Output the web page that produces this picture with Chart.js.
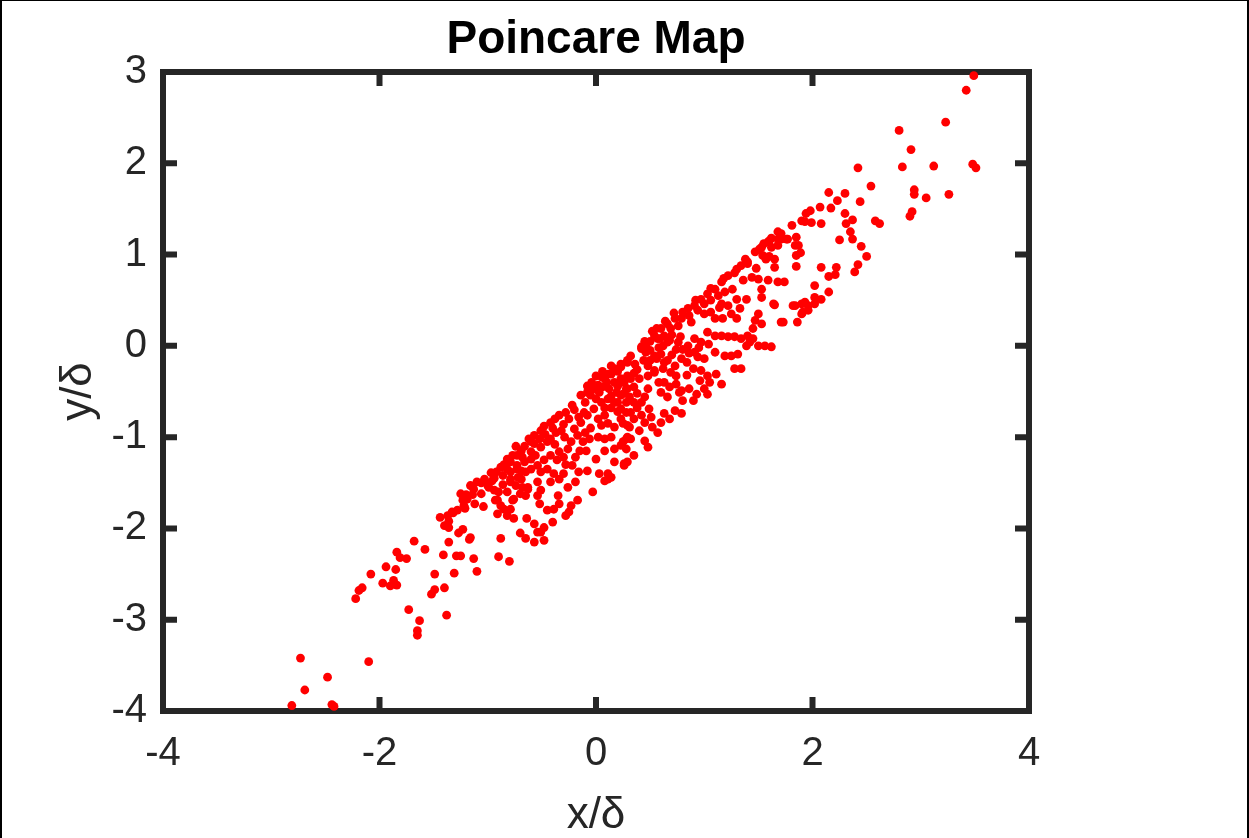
<!DOCTYPE html>
<html>
<head>
<meta charset="utf-8">
<title>Poincare Map</title>
<script src="https://cdn.jsdelivr.net/npm/chart.js@4.4.0/dist/chart.umd.min.js"></script>
<style>
  html, body { margin: 0; padding: 0; background: #fff; }
  #wrap { position: relative; width: 1249px; height: 838px; overflow: hidden; }
  #edge { position: absolute; left: 0; top: 0; right: 0; bottom: 0; pointer-events: none;
          border-left: 2px solid #000; border-top: 1px solid #000; border-right: 2px solid #000; }
</style>
</head>
<body>
<div id="wrap">
  <canvas id="map" width="1249" height="838"></canvas>
  <div id="edge"></div>
</div>
<script>
// axis ticks
const xTicks = [-4, -2, 0, 2, 4];
const yTicks = [-4, -3, -2, -1, 0, 1, 2, 3];

// section points [x/δ, y/δ], grouped along the band from lower left to upper right
const lowerTail = [
  [-2.81,-3.94],[-2.44,-3.93],[-2.42,-3.95],[-2.69,-3.77],[-2.73,-3.42],[-2.48,-3.63],[-2.10,-3.46],
  [-2.22,-2.77],[-2.19,-2.68],[-2.16,-2.65],[-2.08,-2.50],[-1.97,-2.60],[-1.90,-2.63],[-1.87,-2.57],
  [-1.84,-2.62],[-1.94,-2.42],[-1.85,-2.45],[-1.84,-2.26],[-1.81,-2.32],[-1.75,-2.33],[-1.68,-2.14],
  [-1.58,-2.23],[-1.73,-2.89],[-1.63,-3.01],[-1.65,-3.12],[-1.65,-3.17],[-1.38,-2.95],[-1.49,-2.50],
  [-1.52,-2.72],[-1.49,-2.67],[-1.40,-2.65],[-1.41,-2.29],[-1.31,-2.49],[-1.29,-2.30],[-1.25,-2.30],
  [-1.13,-2.33],[-1.10,-2.47],[-1.36,-2.15],[-1.17,-2.12],[-1.16,-2.10],[-1.23,-2.01],[-1.27,-2.05],
  [-1.44,-1.88],[-1.40,-1.97],[-1.36,-1.92],[-1.32,-1.83],[-1.21,-1.78],[-1.23,-1.69],[-1.20,-1.63],
  [-1.13,-1.57],[-1.06,-1.50],[-1.03,-1.46],[-1.06,-1.62],[-0.97,-1.39],[-0.94,-1.58],[-0.91,-1.69],
  [-0.88,-1.75],[-0.91,-1.84],[-0.85,-1.79],[-0.79,-1.79],[-0.77,-1.69],[-0.88,-2.11],[-0.90,-2.31],
  [-0.80,-2.36],[-0.76,-1.89],[-0.64,-1.89],[-0.57,-1.95],[-0.54,-2.04],[-0.70,-2.05],[-0.65,-2.11],
  [-0.57,-2.15],[-0.63,-1.57],[-0.79,-1.49],[-0.69,-1.46],[-0.65,-1.38],[-0.88,-1.33],[-0.79,-1.27],
  [-0.73,-1.20],[-0.69,-1.15],[-0.60,-1.16],[-0.57,-1.07],[-0.79,-1.38],[-0.73,-1.35],[-0.82,-1.60],
  [-0.76,-1.68],[-1.19,-1.68],[-1.22,-1.75],[-1.25,-1.62],[-1.16,-1.53],[-1.10,-1.49],[-1.37,-1.86],
  [-1.33,-1.82],[-1.36,-1.99],[-0.82,-1.86],[-0.94,-1.45],[-0.86,-1.42],[-0.86,-1.52],[-0.72,-1.44],
  [-0.99,-1.55],[-0.70,-1.62],[-1.00,-1.53],[-0.96,-1.48],[-1.14,-1.63],[-0.92,-1.38],[-0.85,-1.30],
  [-0.74,-1.10],[-0.68,-1.22],[-1.12,-1.73],[-1.28,-1.80],[-1.04,-1.76]
];

const lowerCore = [
  [-0.82,-1.24],[-0.62,-1.02],[-0.57,-0.98],[-0.51,-0.93],[-0.42,-0.84],[-0.34,-0.76],[-0.28,-0.73],
  [-0.22,-0.65],[-0.14,-0.54],[-0.08,-0.51],[0.02,-0.43],[0.08,-0.36],[0.14,-0.31],[0.23,-0.23],
  [0.29,-0.18],[-0.20,-0.91],[-0.17,-0.98],[-0.23,-1.05],[-0.29,-1.00],[-0.32,-0.93],[-0.14,-0.84],
  [-0.08,-0.76],[-0.02,-0.69],[-0.11,-0.73],[0.05,-0.62],[0.11,-0.58],[0.17,-0.62],[0.23,-0.54],
  [0.28,-0.47],[0.17,-0.40],[0.23,-0.36],[0.29,-0.33],[-0.05,-0.54],[-0.02,-0.47],[0.03,-0.51],
  [0.02,-0.80],[0.08,-0.76],[0.05,-0.87],[0.11,-0.85],[0.17,-0.89],[0.23,-0.80],[0.28,-0.73],
  [0.29,-0.87],[0.28,-1.02],[-0.06,-1.02],[0.02,-1.00],[0.08,-1.02],[0.14,-1.00],[-0.09,-1.15],
  [0.00,-1.24],[0.08,-1.15],[0.17,-1.13],[-0.08,-1.37],[0.03,-1.40],[0.11,-1.40],[0.11,-1.46],
  [0.08,-1.48],[0.14,-1.44],[0.17,-1.27],[0.26,-1.29],[-0.03,-1.60],[-0.19,-1.49],[-0.26,-1.55],
  [-0.17,-1.69],[-0.23,-1.75],[-0.25,-1.82],[-0.28,-1.86],[-0.35,-1.64],[-0.45,-1.35],[-0.39,-1.40],
  [-0.42,-1.49],[-0.34,-1.46],[-0.34,-1.16],[-0.42,-1.20],[-0.51,-1.11],[-0.45,-1.05],[-0.26,-1.13],
  [-0.19,-1.22],[-0.22,-1.31],[-0.37,-0.95],[-0.42,-1.02],[-0.60,-1.24],[-0.54,-1.31],[-0.60,-1.35],
  [-0.51,-1.38],[-0.54,-1.49],[-0.63,-1.55],[-0.51,-1.58],[-0.54,-1.64],[-0.52,-1.73],[-0.45,-1.80],
  [-0.40,-1.93],[-0.48,-1.99],[-0.51,-2.04],[-0.48,-2.13],[-0.69,-1.37],[-0.66,-1.27],[-0.73,-1.31],
  [-0.77,-1.20],[-0.82,-1.35],[-0.79,-1.46],[-0.74,-1.53],[-0.68,-1.55],[-0.65,-1.64],[-0.90,-1.60],
  [-0.93,-1.69],[-0.39,-1.79],[-0.34,-1.73],[0.25,-1.05],[0.29,-1.00],[0.28,-1.13],[0.29,-1.27],
  [0.26,-1.31],[-0.10,-0.62],[0.00,-0.58],[0.06,-0.45],[0.12,-0.47],[0.19,-0.51],[0.26,-0.40],
  [0.20,-0.28],[0.10,-0.40],[-0.04,-0.40],[0.14,-0.68],[0.20,-0.72],[0.08,-0.68],[-0.30,-0.86],
  [-0.25,-0.80],[-0.16,-0.78],[-0.47,-0.97],[-0.38,-1.08],[-0.30,-1.22],[-0.12,-1.05],[-0.05,-0.90],
  [-0.48,-1.25],[-0.56,-1.20],[-0.08,-0.44],[0.00,-0.33],[0.06,-0.28],[0.14,-0.22],[0.20,-0.44],
  [0.26,-0.52],[0.35,-0.30],[0.38,-0.52],[0.14,-0.55],[0.31,-0.56],[0.38,-0.68],[0.20,-0.62],
  [0.35,-0.80],[0.42,-0.62],[-0.60,-1.05],[-0.52,-1.02],[-0.66,-1.10],[-0.48,-0.88],[-0.40,-0.90],
  [-0.36,-1.25],[-0.28,-1.30],[-0.15,-1.15],[-0.10,-0.95],[-0.16,-1.38],[-0.30,-1.40],[-0.20,-0.70],
  [-0.38,-0.80]
];

const middleCore = [
  [0.32,-0.36],[0.23,-0.40],[0.29,-0.47],[0.35,-0.45],[0.40,-0.36],[0.48,-0.33],[0.54,-0.29],
  [0.62,-0.25],[0.69,-0.29],[0.74,-0.33],[0.63,-0.40],[0.68,-0.45],[0.79,-0.49],[0.86,-0.47],
  [0.90,-0.25],[0.97,-0.27],[1.03,-0.33],[1.11,-0.31],[1.16,-0.42],[1.05,-0.40],[1.00,-0.47],
  [1.03,-0.53],[0.93,-0.53],[0.90,-0.60],[0.80,-0.60],[0.77,-0.51],[0.60,-0.51],[0.48,-0.47],
  [0.45,-0.56],[0.35,-0.62],[0.28,-0.62],[0.23,-0.69],[0.32,-0.73],[0.42,-0.76],[0.49,-0.69],
  [0.51,-0.78],[0.63,-0.74],[0.73,-0.71],[0.79,-0.74],[0.68,-0.80],[0.60,-0.84],[0.52,-0.89],
  [0.45,-0.84],[0.40,-0.93],[0.31,-0.89],[0.25,-0.85],[0.32,-1.02],[0.45,-1.04],[0.48,-1.11],
  [0.35,-1.20],[0.57,-0.95],[0.23,-1.09],[1.28,-0.25],[1.34,-0.25],
  [0.56,0.19],[0.59,0.08],[0.42,-0.01],[0.46,-0.07],[0.29,-0.16],[0.23,-0.20],[0.17,-0.25],
  [0.11,-0.31],[0.05,-0.34],[0.48,-0.22],[0.56,-0.14],[0.54,-0.27],[0.66,-0.56],[0.74,-0.42],
  [0.84,-0.32],[0.96,-0.38],[0.58,-0.40],[0.70,-0.10],[0.84,-0.18],[1.00,-0.14],[0.80,-0.04],
  [0.50,0.05],[0.58,-0.02],[0.68,0.06],[0.74,-0.04],[0.78,0.10],[0.86,-0.08],[0.95,-0.02],
  [1.04,0.02],[0.66,-0.16],[0.76,0.04],[0.50,-0.16],[0.44,-0.16]
];

const upperCore = [
  [0.32,-0.11],[0.42,-0.03],[0.46,0.00],[0.54,0.11],[0.60,0.19],[0.66,0.24],[0.73,0.30],[0.80,0.37],
  [0.85,0.41],[0.91,0.44],[0.97,0.51],[1.03,0.57],[1.10,0.62],[1.16,0.70],[1.22,0.77],[1.30,0.84],
  [1.34,0.88],[1.40,0.90],[1.47,1.03],[1.53,1.08],[1.59,1.14],[1.68,1.17],[0.57,0.08],[0.63,0.11],
  [0.69,0.19],[0.62,0.00],[0.66,0.04],[0.79,0.30],[0.86,0.33],[0.94,0.39],[1.00,0.46],[1.06,0.50],
  [1.13,0.55],[1.19,0.59],[1.30,0.51],[1.39,0.51],[1.33,0.41],[1.25,0.35],[1.30,0.30],[1.17,0.30],
  [1.10,0.30],[1.06,0.37],[1.22,0.44],[1.16,0.46],[1.44,0.75],[1.50,0.73],[1.59,0.72],[1.68,0.70],
  [1.74,0.70],[1.53,0.62],[1.53,0.53],[1.64,0.46],[1.50,0.35],[1.53,0.24],[1.71,0.26],[1.47,0.28],
  [1.45,0.19],[1.40,0.11],[1.45,0.08],[1.42,0.04],[1.03,0.15],[1.10,0.11],[1.16,0.11],[1.22,0.10],
  [1.28,0.10],[1.34,0.08],[1.39,0.00],[1.31,-0.09],[1.50,0.00],[1.56,0.00],[0.91,0.08],[0.97,0.04],
  [0.85,0.00],[0.91,-0.07],[0.94,-0.12],[1.10,-0.07],[1.19,-0.11],[1.25,-0.11],[0.54,-0.11],
  [0.60,-0.09],[0.63,-0.18],[0.73,-0.22],[0.79,-0.14],[0.36,-0.20],[0.50,-0.05],[0.70,0.12],
  [0.76,0.22],[0.88,0.26],[1.00,0.35],[1.14,0.42],[1.26,0.62],[1.36,0.72],[1.48,0.85],[1.60,0.98],
  [0.38,-0.26],[0.45,0.05],[0.52,0.16],[0.64,0.27],[0.72,0.36],[0.92,0.50],[1.06,0.63],[1.18,0.74],
  [1.28,0.80],[1.38,0.95],[1.55,1.12],[1.62,1.18]
];

const upperTail = [
  [3.49,2.96],[3.42,2.80],[3.23,2.45],[2.80,2.36],[2.91,2.15],[2.83,1.96],[3.12,1.97],[3.48,1.99],
  [3.51,1.95],[2.42,1.95],[2.54,1.75],[2.94,1.71],[2.94,1.66],[3.05,1.62],[3.26,1.66],[2.92,1.47],
  [2.90,1.42],[2.15,1.68],[2.30,1.67],[2.23,1.59],[2.44,1.58],[2.17,1.51],[2.07,1.52],[1.98,1.48],
  [1.94,1.45],[1.93,1.36],[1.99,1.35],[2.08,1.34],[2.30,1.45],[2.31,1.34],[2.37,1.38],[2.58,1.37],
  [2.62,1.34],[2.35,1.25],[2.37,1.17],[2.25,1.16],[2.45,1.09],[2.50,0.98],[2.42,0.89],[2.39,0.81],
  [2.22,0.86],[2.21,0.78],[2.15,0.76],[2.08,0.86],[2.02,0.66],[2.15,0.59],[2.08,0.51],[2.02,0.53],
  [1.90,0.46],[1.84,0.44],[1.93,0.48],[1.96,0.39],[1.90,0.35],[1.85,0.87],[1.81,1.32],[1.76,1.17],
  [1.85,1.19],[1.84,1.10],[1.89,1.02],[1.71,1.23],[1.65,0.45],[1.82,0.44],[1.96,0.44],[2.02,0.46],
  [1.91,0.37],[1.73,0.26],[1.86,0.26],[1.62,-0.01],[1.90,1.37],[1.68,1.25],[1.60,1.15],[1.71,1.17],
  [1.77,1.17],[1.51,1.06],[1.54,0.99],[1.57,0.95],[1.65,0.95],[1.68,1.10],[1.62,1.08],[1.40,0.92],
  [1.65,0.86],[1.87,1.10],[1.85,0.99]
];

const sectionPoints = [].concat(lowerTail, lowerCore, middleCore, upperCore, upperTail)
  .map(([x, y]) => ({ x, y }));

const axisInk = '#262626';
const fontFamily = "'Liberation Sans', Arial, Helvetica, sans-serif";

// MATLAB-style box: thick frame with inward ticks on all four sides, title over the axes
const boxFrame = {
  id: 'boxFrame',
  beforeDatasetsDraw(chart) {
    const { ctx, chartArea: a, scales } = chart;
    const len = 14;
    ctx.save();
    ctx.strokeStyle = axisInk;
    ctx.lineWidth = 6;
    ctx.lineJoin = 'miter';
    ctx.beginPath();
    xTicks.forEach(v => {
      const p = scales.x.getPixelForValue(v);
      ctx.moveTo(p, a.bottom); ctx.lineTo(p, a.bottom - len);
      ctx.moveTo(p, a.top); ctx.lineTo(p, a.top + len);
    });
    yTicks.forEach(v => {
      const p = scales.y.getPixelForValue(v);
      ctx.moveTo(a.left, p); ctx.lineTo(a.left + len, p);
      ctx.moveTo(a.right, p); ctx.lineTo(a.right - len, p);
    });
    ctx.stroke();
    ctx.strokeRect(a.left, a.top, a.right - a.left, a.bottom - a.top);

    ctx.fillStyle = '#000';
    ctx.font = 'bold 46px ' + fontFamily;
    ctx.textAlign = 'center';
    ctx.textBaseline = 'alphabetic';
    ctx.fillText('Poincare Map', (a.left + a.right) / 2, 53);
    ctx.restore();
  }
};

new Chart(document.getElementById('map'), {
  type: 'scatter',
  data: {
    datasets: [{
      data: sectionPoints,
      backgroundColor: '#ff0000',
      borderWidth: 0,
      pointRadius: 4.4,
      pointHoverRadius: 4.4,
      clip: false
    }]
  },
  options: {
    responsive: false,
    animation: false,
    events: [],
    layout: { padding: { left: 0, right: 220, top: 72, bottom: 0 } },
    plugins: {
      legend: { display: false },
      tooltip: { enabled: false },
      title: { display: false }
    },
    scales: {
      x: {
        type: 'linear',
        min: -4, max: 4,
        afterBuildTicks: s => { s.ticks = xTicks.map(v => ({ value: v })); },
        afterFit: s => { s.height = 127; },
        grid: { display: false, drawTicks: false },
        border: { display: false },
        ticks: { color: axisInk, font: { family: fontFamily, size: 40 }, padding: 19, maxRotation: 0 },
        title: { display: true, text: 'x/δ', color: axisInk,
                 font: { family: fontFamily, size: 44, lineHeight: 1 }, padding: { top: 0, bottom: 0 } }
      },
      y: {
        type: 'linear',
        min: -4, max: 3,
        afterBuildTicks: s => { s.ticks = yTicks.map(v => ({ value: v })); },
        afterFit: s => { s.width = 163; },
        grid: { display: false, drawTicks: false },
        border: { display: false },
        ticks: { color: axisInk, font: { family: fontFamily, size: 40 }, padding: 16 },
        title: { display: true, text: 'y/δ', color: axisInk,
                 font: { family: fontFamily, size: 44 }, padding: { top: 52, bottom: 0 } }
      }
    }
  },
  plugins: [boxFrame]
});
</script>
</body>
</html>
